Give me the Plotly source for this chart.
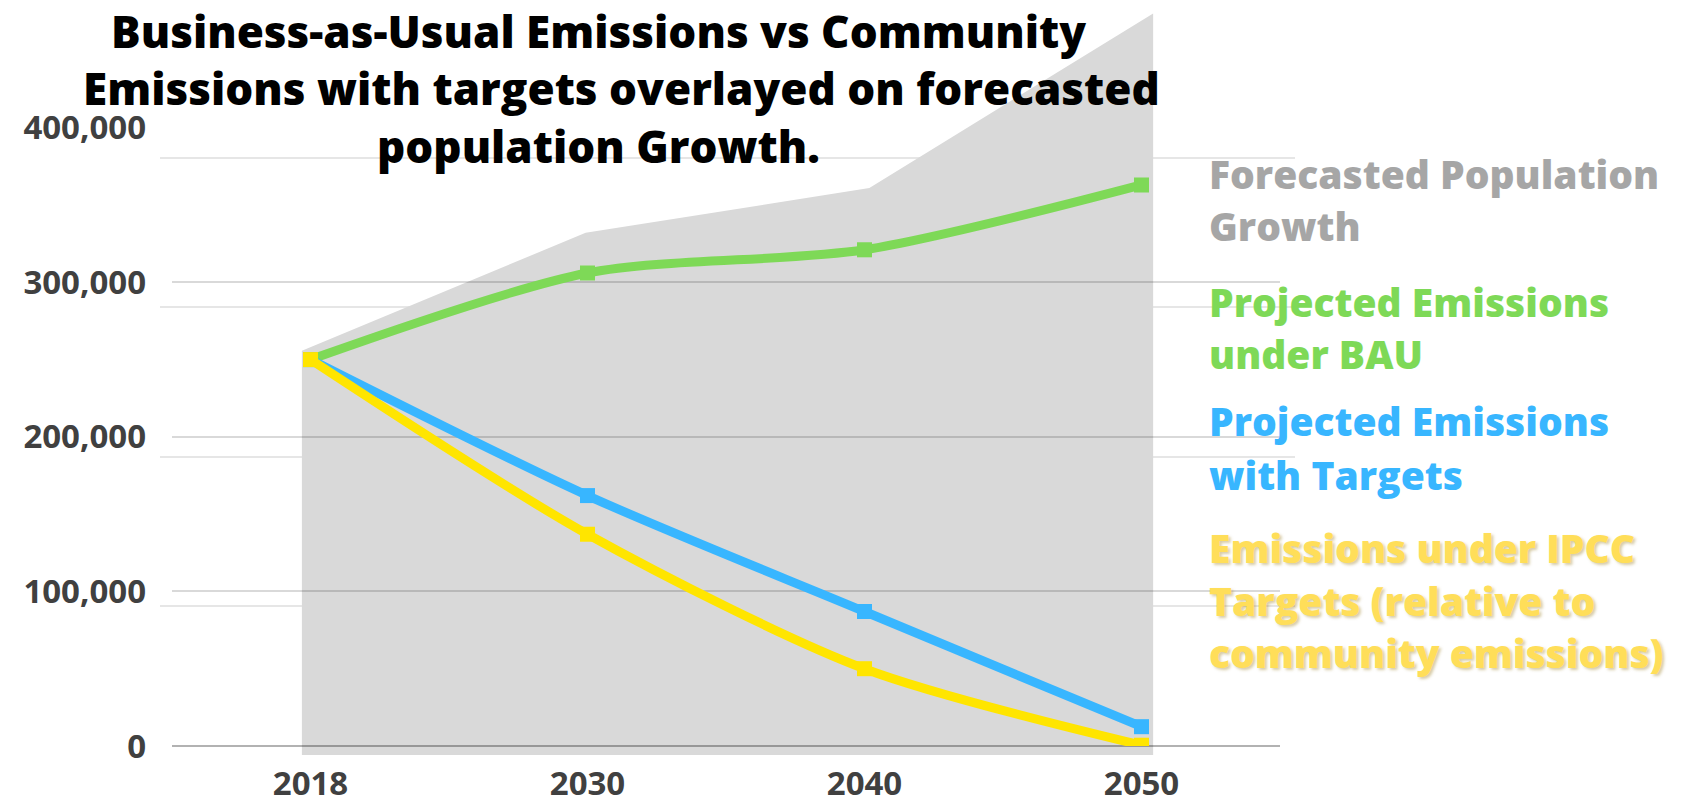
import plotly.graph_objects as go

# ---------------- data ----------------
years = ["2018", "2030", "2040", "2050"]
population_growth = [2.71, 3.50, 3.80, 4.97]          # hidden secondary scale
bau_emissions = [250000, 306000, 321000, 363000]
target_emissions = [250000, 162000, 87000, 12500]
ipcc_emissions = [250000, 137000, 50000, 500]

title_lines = [
    "Business-as-Usual Emissions vs Community",
    "Emissions with targets overlayed on forecasted",
    "population Growth.",
]
legend_groups = [
    (["Forecasted Population", "Growth"], "#a6a6a6"),
    (["Projected Emissions", "under BAU"], "#7ed957"),
    (["Projected Emissions", "with Targets"], "#38b6ff"),
    (["Emissions under IPCC", "Targets (relative to", "community emissions)"], "#ffde59"),
]

# ---------------- geometry helpers ----------------
W, H = 1681, 799
L, R, T, B = 160, 1295, 9, 755


def px(x):
    return (x - L) / (R - L)


def py(y):
    return (B - y) / (B - T)


fig = go.Figure()

# population area (background subplot)
fig.add_trace(go.Scatter(
    x=years, y=population_growth, xaxis="x", yaxis="y",
    mode="lines", fill="tozeroy", fillcolor="#d9d9d9",
    line=dict(width=0, color="#d9d9d9"), hoverinfo="skip", showlegend=False,
))

series = [
    (bau_emissions, "#7ed957"),
    (target_emissions, "#38b6ff"),
    (ipcc_emissions, "#ffe500"),
]
for vals, col in series:
    fig.add_trace(go.Scatter(
        x=years, y=vals, xaxis="x2", yaxis="y2",
        mode="lines+markers",
        line=dict(color=col, width=9, shape="spline", smoothing=0.8),
        marker=dict(symbol="square", size=15, color=col),
        showlegend=False,
    ))

tick_font = dict(family="Open Sans", size=33, color="#404040", weight=700)

fig.update_layout(
    width=W, height=H,
    margin=dict(l=L, r=W - R, t=T, b=H - B, pad=0, autoexpand=False),
    paper_bgcolor="white", plot_bgcolor="rgba(0,0,0,0)",
    showlegend=False,
    xaxis=dict(domain=[0, 1], anchor="y", type="category", categoryarray=years,
               range=[-0.5, 3.5], showgrid=False, showticklabels=False,
               zeroline=False, showline=False, automargin=False),
    yaxis=dict(domain=[0, 1], anchor="x", range=[0, 5], dtick=1, showgrid=True,
               gridcolor="#e6e6e6", gridwidth=1.5, showticklabels=False,
               zeroline=False, showline=False, automargin=False),
    xaxis2=dict(domain=[px(172), px(1280)], anchor="y2", type="category",
                categoryarray=years, range=[-0.5, 3.5], showgrid=False,
                zeroline=False, showline=False, tickfont=tick_font,
                ticks="", ticklabelstandoff=15, automargin=False),
    yaxis2=dict(domain=[py(746), py(127.7)], anchor="x2", range=[0, 400000],
                dtick=100000, tickformat=",d", showgrid=True,
                gridcolor="rgba(0,0,0,0.15)", gridwidth=1.5,
                zeroline=True, zerolinecolor="rgba(0,0,0,0.3)", zerolinewidth=2,
                showline=False, tickfont=tick_font, ticks="",
                ticklabelstandoff=25, automargin=False),
)

annotations = []
title_centers = [(598, 31), (621, 88), (598, 146)]
for text, (cx, cy) in zip(title_lines, title_centers):
    annotations.append(dict(
        text=text, x=px(cx), y=py(cy), xref="paper", yref="paper",
        xanchor="center", yanchor="middle", showarrow=False,
        font=dict(family="Open Sans", size=44, color="#000000", weight=800),
    ))

legend_y = [[173.5, 225.5], [301.5, 353], [421, 474], [547, 600, 652]]
for (lines, col), ys in zip(legend_groups, legend_y):
    for text, yy in zip(lines, ys):
        f = dict(family="Open Sans", size=39, color=col, weight=800)
        if col == "#ffde59":
            f["shadow"] = "2px 2px 3px rgba(140,110,0,0.35)"
        annotations.append(dict(
            text=text, x=px(1207), y=py(yy), xref="paper", yref="paper",
            xanchor="left", yanchor="middle", showarrow=False, font=f,
        ))

fig.update_layout(annotations=annotations)

fig.write_html(
    "out.html",
    config={"displayModeBar": False},
    post_script="document.body.style.margin='0';document.body.style.overflow='hidden';",
)
